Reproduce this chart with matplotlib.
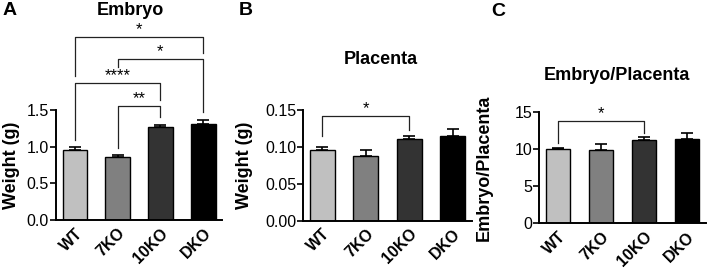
import matplotlib
matplotlib.use("Agg")
import numpy as np
from matplotlib import pyplot as plt

plt.rcParams["font.family"] = ["Liberation Sans", "DejaVu Sans"]

groups = ["WT", "7KO", "10KO", "DKO"]
bar_colors = ["#c0c0c0", "#808080", "#333333", "#000000"]

embryo_mean = [0.956, 0.865, 1.265, 1.306]
embryo_err = [0.044, 0.025, 0.035, 0.064]

placenta_mean = [0.0954, 0.088, 0.110, 0.1154]
placenta_err = [0.0046, 0.0083, 0.0044, 0.0086]

ratio_mean = [10.0, 9.9, 11.3, 11.4]
ratio_err = [0.2, 0.8, 0.36, 0.8]

# (left bar, right bar, bracket height, left leg end, right leg end, label)
embryo_sig = [
    (0, 3, 2.50, 1.97, 2.28, "*"),
    (1, 3, 2.19, 2.09, 1.47, "*"),
    (0, 2, 1.87, 1.09, 1.63, "****"),
    (1, 2, 1.55, 0.98, 1.40, "**"),
]
placenta_sig = [(0, 2, 0.142, 0.115, 0.1226, "*")]
ratio_sig = [(0, 2, 13.87, 10.8, 12.2, "*")]


def bar_panel(ax, means, errs, ticks, fmt, ylabel, label_x, sig):
    x = np.arange(len(groups))
    ax.bar(x, means, width=0.575, color=bar_colors, edgecolor="black",
           linewidth=1.0, zorder=2)
    ax.errorbar(x, means, yerr=[np.zeros(len(errs)), errs], fmt="none",
                ecolor="black", elinewidth=1.2, capsize=4.5, capthick=1.2,
                zorder=3)
    ax.set_xlim(-0.44, 3.44)
    ax.set_ylim(0, ticks[-1])
    ax.set_yticks(ticks)
    ax.set_yticklabels([fmt.format(t) for t in ticks], fontsize=11.5)
    ax.set_xticks(x)
    ax.set_xticklabels(groups, rotation=45, ha="right",
                       rotation_mode="anchor", fontsize=11.5, fontweight="bold")
    ax.tick_params(axis="x", length=0, pad=4)
    ax.tick_params(axis="y", length=4, width=1.2, pad=1)
    for s in ["top", "right"]:
        ax.spines[s].set_visible(False)
    for s in ["left", "bottom"]:
        ax.spines[s].set_linewidth(1.4)
    ax.set_ylabel(ylabel, fontsize=13, fontweight="bold")
    ax.yaxis.set_label_coords(label_x, 0.5)
    for i, j, h, li, lj, txt in sig:
        ax.plot([i, i, j, j], [li, h, h, lj], color="#222222", lw=0.9,
                clip_on=False, zorder=4)
        ax.text((i + j) / 2, h, txt, ha="center", va="bottom",
                fontsize=12, clip_on=False)


fig = plt.figure(figsize=(7.08, 2.71), dpi=100)
ax_a = fig.add_axes([0.0791, 0.1882, 0.2345, 0.4059])
ax_b = fig.add_axes([0.4280, 0.1863, 0.2387, 0.4077])
ax_c = fig.add_axes([0.7613, 0.1760, 0.2359, 0.4096])

bar_panel(ax_a, embryo_mean, embryo_err, [0.0, 0.5, 1.0, 1.5], "{:.1f}",
          "Weight (g)", -0.217, embryo_sig)
bar_panel(ax_b, placenta_mean, placenta_err, [0.0, 0.05, 0.10, 0.15], "{:.2f}",
          "Weight (g)", -0.296, placenta_sig)
bar_panel(ax_c, ratio_mean, ratio_err, [0, 5, 10, 15], "{:d}",
          "Embryo/Placenta", -0.275, ratio_sig)

fig.text(0.1836, 0.963, "Embryo", ha="center", va="center", fontsize=13,
         fontweight="bold")
fig.text(0.538, 0.782, "Placenta", ha="center", va="center", fontsize=13,
         fontweight="bold")
fig.text(0.8715, 0.72, "Embryo/Placenta", ha="center", va="center",
         fontsize=13, fontweight="bold")
fig.text(0.004, 0.963, "A", ha="left", va="center", fontsize=14,
         fontweight="bold")
fig.text(0.337, 0.96, "B", ha="left", va="center", fontsize=14,
         fontweight="bold")
fig.text(0.694, 0.958, "C", ha="left", va="center", fontsize=14,
         fontweight="bold")

fig.savefig("out.png", dpi=100)
